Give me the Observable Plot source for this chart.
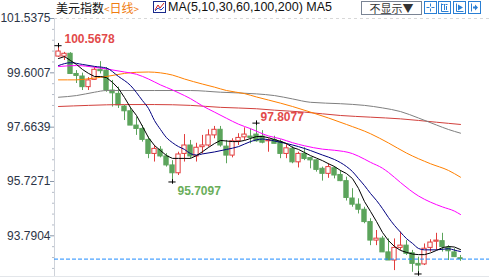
<!DOCTYPE html>
<html><head><meta charset="utf-8">
<script src="https://cdn.jsdelivr.net/npm/d3@7"></script>
<script src="https://cdn.jsdelivr.net/npm/@observablehq/plot@0.6"></script>
<style>
body{margin:0;background:#fff;}
#wrap{position:relative;width:489px;height:277px;overflow:hidden;background:#fff;}
#chart{position:absolute;left:0;top:0;}
.h{position:absolute;top:1px;line-height:13px;white-space:nowrap;}
.cjk{font-family:"Noto Sans CJK SC",sans-serif;font-size:12px;}
.lat{font-family:"Liberation Sans",Arial,sans-serif;font-size:12.5px;}
#bline{position:absolute;left:0;top:276px;width:489px;height:1px;background:#e3e6ea;}
#btn{position:absolute;left:361px;top:1px;width:59px;height:12px;border:1px solid #7a8494;}
#btn span{position:absolute;left:0;top:1px;width:59px;text-align:center;font-family:"Noto Sans CJK SC",sans-serif;font-size:11px;line-height:11px;color:#333;}
</style></head>
<body>
<div id="wrap">
<div id="chart"></div>
<div id="bline"></div>
<span class="h cjk" style="left:56px;color:#111;">美元指数</span>
<span class="h cjk" style="left:104px;color:#f07c10;"><span style="font-size:10px">&lt;</span>日线<span style="font-size:10px">&gt;</span></span>
<svg class="h" style="left:153px;top:1px" width="13" height="12"><rect x="0.5" y="0.5" width="12" height="11" fill="#fff" stroke="#1a2a8a"/><polyline points="2,9 5,4 7,7 11,2" fill="none" stroke="#d02020"/><polyline points="2,10 5,7 8,9 11,6" fill="none" stroke="#2040c0"/></svg>
<span class="h lat" style="left:168px;color:#111;">MA(5,10,30,60,100,200) MA5</span>
<div id="btn"><span>不显示▼</span></div>
<svg class="h" style="left:424px;top:1px" width="13" height="13"><rect x="0.5" y="0.5" width="12" height="12" fill="#fff" stroke="#2a7fd4"/><path d="M6.5 2.5V5.5M6.5 7.5V10.5M2.5 6.5H5.5M7.5 6.5H10.5" stroke="#2a7fd4" fill="none"/></svg>
<svg class="h" style="left:438px;top:1px" width="13" height="13"><rect x="0.5" y="0.5" width="12" height="12" fill="#fff" stroke="#2a7fd4"/><path d="M3.5 2.5V10.5H10.5M3.5 3.5H5.5M9.5 3.5H7.5M6.5 3V9M8.5 5V9" stroke="#2a7fd4" fill="none"/></svg>
<svg class="h" style="left:453px;top:1px" width="13" height="13"><rect x="0.5" y="0.5" width="12" height="12" fill="#fff" stroke="#2a7fd4"/><path d="M3.5 2.5V10.5H10.5" stroke="#2a7fd4" fill="none"/><path d="M5 3.5L10 6.5L5 9.5Z" fill="#2a7fd4"/></svg>
<svg class="h" style="left:468px;top:1px" width="13" height="13"><rect x="0.5" y="0.5" width="12" height="12" fill="#fff" stroke="#2a7fd4"/><path d="M3.5 2.5V10.5" stroke="#2a7fd4" fill="none"/><path d="M5 5.5H7V3.5L10 6.5L7 9.5V7.5H5Z" fill="#2a7fd4"/></svg>
</div>
<script>
// ---- data (daily candles) ----
const opens = [100.18,100.18,100.28,99.56,99.47,99.09,99.35,99.71,99.68,98.97,
  98.85,98.40,98.23,97.72,97.60,97.21,96.71,96.86,96.62,96.30,
  96.02,96.71,97.01,96.62,96.95,97.01,97.37,97.57,96.97,96.65,
  97.16,97.30,97.33,97.40,97.33,97.16,97.21,97.13,96.71,96.89,
  96.41,96.71,96.56,96.48,96.18,96.00,96.20,95.96,95.74,95.12,
  94.90,94.72,94.28,93.62,93.69,93.20,92.91,93.36,93.44,93.17,
  92.79,92.77,93.36,93.58,93.60,93.36,93.20,92.99];
const highs = [100.5678,100.33,100.32,99.68,99.59,99.43,99.79,100.00,99.79,99.33,
  99.09,98.44,98.37,98.02,97.72,97.31,97.01,96.97,96.72,96.47,
  96.77,97.40,97.19,97.09,97.37,97.57,97.69,97.69,97.19,97.25,
  97.43,97.64,97.60,97.8077,97.54,97.25,97.34,97.21,97.07,96.97,
  96.77,96.93,96.59,96.50,96.24,96.36,96.26,96.12,95.88,95.47,
  95.11,94.81,94.40,93.98,93.77,93.68,93.68,93.92,93.62,93.27,
  93.03,93.50,93.65,93.88,93.88,93.44,93.33,93.09];
const lows = [100.15,100.04,99.55,99.22,98.97,98.97,99.34,99.56,98.91,98.38,
  98.33,97.90,97.72,97.37,97.13,96.54,96.42,96.57,96.24,95.7097,
  95.94,96.42,96.54,96.42,96.71,96.95,97.25,96.95,96.36,96.57,
  97.01,97.19,97.07,97.13,97.07,96.77,97.07,96.54,96.54,96.36,
  96.21,96.47,96.18,96.06,95.74,95.84,95.82,95.72,95.03,94.81,
  94.57,94.22,93.44,93.44,93.20,92.91,92.55,93.27,93.09,92.49,
  92.43,92.73,93.21,93.27,93.21,92.91,93.03,92.88];
const closes = [100.36,100.28,99.56,99.49,99.09,99.33,99.71,99.66,98.97,98.87,
  98.44,98.23,97.72,97.60,97.21,96.71,96.89,96.62,96.30,96.02,
  96.69,97.01,96.62,96.93,97.01,97.37,97.57,97.01,96.65,97.16,
  97.28,97.40,97.28,97.16,97.11,97.20,97.07,96.71,96.91,96.41,
  96.71,96.53,96.48,96.14,96.00,96.24,95.94,95.74,95.14,94.90,
  94.72,94.28,93.62,93.69,93.20,92.91,93.36,93.44,93.15,92.79,
  92.73,93.33,93.55,93.62,93.39,93.24,93.03,92.96];

// moving averages (candle index -> value)
const ma5 = [100.11,100.18,100.04,99.90,99.72,99.58,99.47,99.47,99.43,99.26,
  99.04,98.72,98.36,98.08,97.69,97.29,97.01,96.83,96.65,96.55,
  96.55,96.55,96.55,96.65,96.79,96.94,97.08,97.19,97.17,97.15,
  97.15,97.19,97.26,97.33,97.33,97.29,97.22,97.16,97.08,96.94,
  96.87,96.76,96.65,96.56,96.47,96.36,96.26,96.12,96.01,95.83,
  95.48,95.01,94.66,94.30,93.91,93.62,93.41,93.27,93.20,93.14,
  93.12,93.12,93.18,93.27,93.37,93.41,93.39,93.30];
const ma10Idx = [0,2,4,6,8,10,12,14,15,16,17,18,19,20,21,22,23,24,26,28,30,32,34,36,38,40,42,44,46,48,49,50,51,52,53,54,55,56,57,58,59,60,61,63,65,66,67];
const ma10 = [99.86,99.96,99.90,99.83,99.77,99.47,99.15,98.61,98.33,97.90,97.58,97.29,97.11,96.97,96.87,96.72,96.67,96.71,96.78,96.87,96.97,97.15,97.24,97.17,97.08,96.97,96.83,96.67,96.51,96.26,96.08,95.83,95.58,95.30,95.05,94.76,94.44,94.16,93.92,93.69,93.52,93.34,93.29,93.29,93.33,93.28,93.23];
const ma30Idx = [0,3,6,8,11,13,15,17,19,21,22,24,26,28,30,32,35,37,39,41,44,46,49,50,52,54,55,57,60,62,64,66,67];
const ma30 = [99.825,99.86,99.80,99.74,99.63,99.55,99.38,99.17,98.99,98.79,98.68,98.42,98.20,97.98,97.77,97.61,97.35,97.25,97.11,97.00,96.88,96.84,96.72,96.63,96.41,96.20,96.05,95.69,95.21,94.99,94.82,94.67,94.55];
const ma60Idx = [0,3,5,8,11,13,15,17,19,21,24,26,28,31,33,35,37,39,42,45,48,52,55,58,62,65,67];
const ma60 = [99.35,99.35,99.39,99.47,99.58,99.62,99.63,99.60,99.52,99.38,99.20,99.09,98.97,98.86,98.74,98.63,98.52,98.40,98.20,97.99,97.76,97.43,97.10,96.74,96.36,96.12,95.88];
const ma100Idx = [0,3,6,8,16,22,27,33,36,39,42,47,51,54,57,60,63,65,67];
const ma100 = [98.73,98.79,98.91,98.97,98.97,98.97,98.91,98.85,98.79,98.67,98.55,98.50,98.44,98.35,98.22,97.99,97.74,97.58,97.45];
const ma200Idx = [0,5,11,16,22,27,33,36,41,47,52,57,63,67];
const ma200 = [98.40,98.44,98.47,98.47,98.44,98.37,98.32,98.27,98.20,98.08,98.02,97.96,97.84,97.76];

// axis tick values / labels
const yTicks = [101.5375, 99.6007, 97.6639, 95.7271, 93.7904];
const yTickLabels = ["101.5375", "99.6007", "97.6639", "95.7271", "93.7904"];

// marked extremes
const extremeIdx = [0, 19, 33, 60];
const extremeVal = [100.5678, 95.7097, 97.8077, 92.43];
const labelText = ["100.5678", "95.7097", "97.8077"];

// ---- build ----
const RED = "#e23d3d", GREEN = "#5ca45c";
const candles = opens.map((o, i) => ({i, o, h: highs[i], l: lows[i], c: closes[i], up: closes[i] >= o}));
const ups = candles.filter(d => d.up), downs = candles.filter(d => !d.up);
const pts = (idx, vals) => idx.map((i, k) => ({i, v: vals[k]}));
const ma5pts = ma5.map((v, i) => ({i, v}));
const ext = extremeIdx.map((i, k) => ({i, v: extremeVal[k]}));
const tickObjs = yTicks.map((v, k) => ({v, label: yTickLabels[k]}));

const step = yTicks[0] - yTicks[1];
const minor = [];
for (let k = 0; k < yTicks.length; k++) for (let j = 1; j < 5; j++) { const v = yTicks[k] - j * step / 5; if (v > 92.34) minor.push(v); }

const xDom = [-2/3, 431/6];
const yDom = [92.34, 101.5375];
const px = 1 / 6; // one pixel in x units
const bw = 0.36;

const lineOpt = (color) => ({x: "i", y: "v", stroke: color, strokeWidth: 1, curve: "monotone-x"});

const marks = [
  Plot.ruleY([yTicks[0]], {stroke: "#d8d8d8", strokeDasharray: "3,3"}),
  Plot.ruleX([xDom[0]], {stroke: "#cfd3da"}),
  Plot.ruleY(yTicks, {x1: xDom[0] - 4 * px, x2: xDom[0], stroke: "#8a96a8"}),
  Plot.ruleY(minor, {x1: xDom[0] - 2 * px, x2: xDom[0], stroke: "#b5bcc8"}),
  Plot.text(tickObjs, {x: xDom[0], y: "v", text: "label", textAnchor: "end", dx: -4, fill: "#2b3446", fontSize: 12}),
  // wicks
  Plot.ruleX(ups, {x: "i", y1: "l", y2: "h", stroke: RED}),
  Plot.ruleX(downs, {x: "i", y1: "l", y2: "h", stroke: GREEN}),
  // bodies
  Plot.rect(ups, {x1: d => d.i - bw, x2: d => d.i + bw, y1: "o", y2: "c", fill: "white", stroke: RED, strokeWidth: 1}),
  Plot.rect(downs, {x1: d => d.i - bw, x2: d => d.i + bw, y1: "c", y2: "o", fill: GREEN, stroke: GREEN, strokeWidth: 1}),
  // moving averages
  Plot.line(pts(ma200Idx, ma200), lineOpt("#d2403c")),
  Plot.line(pts(ma100Idx, ma100), lineOpt("#7f7f7f")),
  Plot.line(pts(ma60Idx, ma60), lineOpt("#ff8000")),
  Plot.line(pts(ma30Idx, ma30), lineOpt("#ff00ff")),
  Plot.line(pts(ma10Idx, ma10), lineOpt("#000080")),
  Plot.line(ma5pts, {x: "i", y: "v", stroke: "#000", strokeWidth: 1}),
  // current price line
  Plot.ruleY([closes[closes.length - 1]], {stroke: "#1e8cff", strokeDasharray: "4,2"}),
  // extreme markers
  Plot.ruleY(ext, {y: "v", x1: d => d.i - 0.6, x2: d => d.i + 0.6, stroke: "#000"}),
  Plot.ruleX(ext, {x: "i", y1: d => d.v - 0.08, y2: d => d.v + 0.08, stroke: "#000"}),
  Plot.text([ext[0]], {x: "i", y: "v", text: () => labelText[0], textAnchor: "start", dx: 6, dy: -7, fill: "#e24a4a", fontWeight: "bold", fontSize: 12}),
  Plot.text([ext[1]], {x: "i", y: "v", text: () => labelText[1], textAnchor: "start", dx: 5, dy: 9, fill: "#6aae5a", fontWeight: "bold", fontSize: 12}),
  Plot.text([ext[2]], {x: "i", y: "v", text: () => labelText[2], textAnchor: "start", dx: 4, dy: -6, fill: "#e24a4a", fontWeight: "bold", fontSize: 12})
];

const chart = Plot.plot({
  width: 489, height: 277,
  marginLeft: 54, marginRight: 0, marginTop: 18, marginBottom: 1,
  x: {type: "linear", domain: xDom, axis: null},
  y: {type: "linear", domain: yDom, axis: null},
  style: {fontFamily: "'Liberation Sans', Arial, sans-serif", fontSize: "12px", background: "white", overflow: "visible"},
  marks
});
document.getElementById("chart").appendChild(chart);
</script>
</body></html>
